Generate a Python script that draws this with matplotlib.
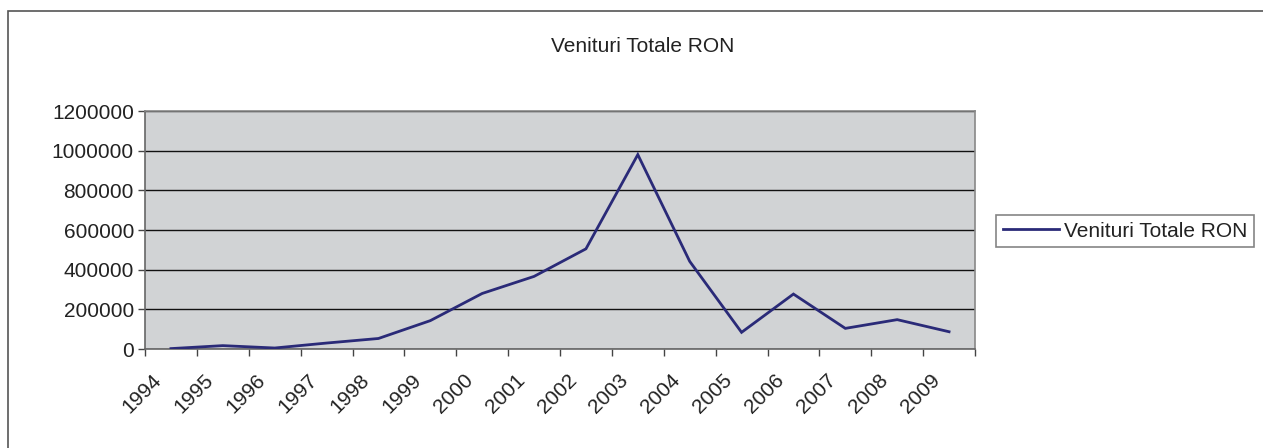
import matplotlib
matplotlib.use("Agg")
import matplotlib.pyplot as plt
import matplotlib.transforms as mtransforms
from matplotlib.patches import Rectangle
import numpy as np

plt.rcParams['font.family'] = ['Liberation Sans', 'DejaVu Sans']

years = ["1994", "1995", "1996", "1997", "1998", "1999", "2000", "2001",
         "2002", "2003", "2004", "2005", "2006", "2007", "2008", "2009"]
venituri = [2000, 17000, 5000, 30000, 53000, 143000, 280000, 366000,
            505000, 980000, 442000, 84000, 277000, 104000, 148000, 87000]
yticks = [0, 200000, 400000, 600000, 800000, 1000000, 1200000]

W, H = 1263, 448
FS = 15
fig = plt.figure(figsize=(W / 100, H / 100), dpi=100)
fig.patch.set_facecolor('white')

# outer chart border (only top/left visible)
fig.add_artist(Rectangle((7.5 / W, -0.1), 1.2, (H - 11) / H + 0.1,
                         transform=fig.transFigure, fill=False,
                         edgecolor='#555555', linewidth=1.2))

L, R, T, B = 145, 975, 111, 349
ax = fig.add_axes([L / W, (H - B) / H, (R - L) / W, (B - T) / H])
ax.set_facecolor('#D1D3D5')

x = np.arange(len(years))
ax.plot(x, venituri, color='#2A2A78', linewidth=2.0, label='Venituri Totale RON',
        solid_joinstyle='miter', zorder=3)

ax.set_xlim(-0.5, len(years) - 0.5)
ax.set_ylim(0, 1200000)
ax.set_yticks(yticks)
ax.set_yticklabels([str(v) for v in yticks], fontsize=FS, color='#222222')
ax.yaxis.grid(True, color='#111111', linewidth=1.0)
ax.set_axisbelow(True)

ax.set_xticks(x)
ax.set_xticklabels(years, rotation=45, ha='right', va='top', fontsize=FS,
                   color='#222222', rotation_mode='anchor')
ax.set_xticks(np.arange(-0.5, len(years)), minor=True)
ax.tick_params(axis='x', which='major', length=0, pad=12)
ax.tick_params(axis='x', which='minor', length=5, color='#444444', width=1)
ax.tick_params(axis='y', length=5, color='#444444', width=1, pad=3)

for s in ['top', 'right']:
    ax.spines[s].set_color('#888888')
    ax.spines[s].set_linewidth(1.2)
for s in ['left', 'bottom']:
    ax.spines[s].set_color('#666666')
    ax.spines[s].set_linewidth(1.2)

fig.text(643 / W, 1 - 47 / H, 'Venituri Totale RON', ha='center', va='center',
         fontsize=FS, color='#222222')

leg = ax.legend(loc='center', bbox_to_anchor=(1125 / W, 1 - 231 / H),
                bbox_transform=fig.transFigure, fontsize=FS, frameon=True,
                fancybox=False, handlelength=2.7, handletextpad=0.25,
                borderpad=0.3, borderaxespad=0)
leg.get_frame().set_edgecolor('#666666')
leg.get_frame().set_linewidth(1.2)
for t in leg.get_texts():
    t.set_color('#222222')

# shift rotated year labels (after all tick configuration)
offset = mtransforms.ScaledTranslation(-19 / 100, -5 / 100, fig.dpi_scale_trans)
for tick in ax.xaxis.get_major_ticks():
    tick.label1.set_transform(tick.label1.get_transform() + offset)

fig.savefig('out.png', dpi=100, facecolor='white')
